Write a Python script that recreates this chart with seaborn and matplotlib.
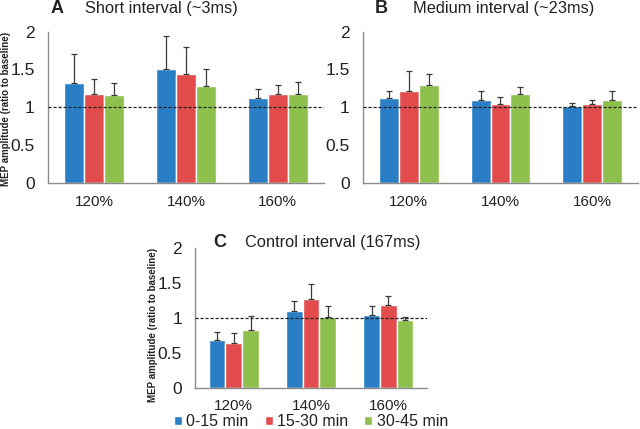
import numpy as np
import pandas as pd
import matplotlib
matplotlib.use('Agg')
import matplotlib.pyplot as plt
import seaborn as sns

# intensities and time windows
intensities = ['120%', '140%', '160%']
windows = ['0-15 min', '15-30 min', '30-45 min']

# rows = intensity (120/140/160%), cols = time window (0-15, 15-30, 30-45 min)
# panel A: short interval (~3ms)
short_mean = [[1.32, 1.17, 1.16],
              [1.51, 1.44, 1.28],
              [1.12, 1.17, 1.18]]
short_top = [[1.71, 1.38, 1.32],
             [1.94, 1.80, 1.51],
             [1.24, 1.30, 1.34]]

# panel B: medium interval (~23ms)
medium_mean = [[1.12, 1.21, 1.30],
               [1.09, 1.04, 1.17],
               [1.02, 1.04, 1.10]]
medium_top = [[1.22, 1.48, 1.44],
              [1.22, 1.13, 1.27],
              [1.06, 1.09, 1.21]]

# panel C: control interval (167ms)
control_mean = [[0.68, 0.65, 0.83],
                [1.10, 1.27, 1.02],
                [1.05, 1.19, 0.97]]
control_top = [[0.80, 0.79, 1.03],
               [1.25, 1.49, 1.17],
               [1.18, 1.31, 1.02]]

palette = ['#2a7ec5', '#e24c4c', '#8dc04d']
axis_grey = '#8c8c8c'
text_col = '#222222'


def to_frame(means, tops):
    rows = []
    for i, inten in enumerate(intensities):
        for j, win in enumerate(windows):
            rows.append({'intensity': inten, 'window': win,
                         'mean': means[i][j], 'err': tops[i][j] - means[i][j]})
    return pd.DataFrame(rows)


def draw_panel(ax, means, tops, letter, title, lx, tx, ty, legend=False):
    df = to_frame(means, tops)
    sns.barplot(data=df, x='intensity', y='mean', hue='window', order=intensities,
                hue_order=windows, palette=palette, width=0.65, errorbar=None,
                saturation=1, ax=ax, legend=legend)
    # one-sided error bars on top of each bar (patches come in hue order)
    bars = [p for p in ax.patches if p.get_height() > 0]
    for k, bar in enumerate(bars):
        j, i = divmod(k, len(intensities))
        row = df[(df.intensity == intensities[i]) & (df.window == windows[j])].iloc[0]
        xc = bar.get_x() + bar.get_width() / 2
        ax.errorbar(xc, row['mean'], yerr=[[0], [row['err']]], fmt='none',
                    ecolor='#3a3a3a', elinewidth=0.9, capsize=2.2, capthick=0.9)
    ax.axhline(1, color='#222222', linestyle=(0, (2.5, 1.5)), linewidth=0.9, zorder=5)
    ax.set_ylim(0, 2)
    ax.set_xlim(-0.5, 2.5)
    ax.set_yticks([0, 0.5, 1, 1.5, 2])
    ax.set_yticklabels(['0', '0.5', '1', '1.5', '2'])
    ax.set_xticks([0.5 + k for k in range(-1, 3)], minor=True)
    ax.tick_params(axis='x', which='major', length=0, labelsize=11, colors=text_col, pad=9)
    ax.tick_params(axis='x', which='minor', length=4, color=axis_grey, width=0.9)
    ax.tick_params(axis='y', length=3.5, color=axis_grey, width=0.9, labelsize=12.5,
                   labelcolor=text_col, pad=6)
    for s in ['top', 'right']:
        ax.spines[s].set_visible(False)
    for s in ['left', 'bottom']:
        ax.spines[s].set_color(axis_grey)
        ax.spines[s].set_linewidth(1.0)
    ax.set_xlabel('')
    ax.set_ylabel('')
    ax.text(lx, ty, letter, transform=ax.transAxes, fontsize=13,
            fontweight='bold', color=text_col, ha='left', va='center')
    ax.text(tx, ty, title, transform=ax.transAxes, fontsize=11.8,
            color=text_col, ha='left', va='center')


fig = plt.figure(figsize=(6.4, 4.29), dpi=100)
sns.set_style('white')
plt.rcParams['font.family'] = ['Liberation Sans', 'DejaVu Sans']

ax_a = fig.add_axes([0.075, 0.574, 0.431, 0.352])
ax_b = fig.add_axes([0.567, 0.574, 0.430, 0.352])
ax_c = fig.add_axes([0.305, 0.096, 0.362, 0.325])

draw_panel(ax_a, short_mean, short_top, 'A', 'Short interval (~3ms)', 0.008, 0.135, 1.155)
draw_panel(ax_b, medium_mean, medium_top, 'B', 'Medium interval (~23ms)', 0.043, 0.183, 1.155)
draw_panel(ax_c, control_mean, control_top, 'C', 'Control interval (167ms)', 0.076, 0.216,
           1.045, legend=True)
ax_c.tick_params(axis='x', which='major', pad=8)

ax_a.set_ylabel('MEP amplitude (ratio to baseline)', fontsize=7, fontweight='bold',
                color=text_col)
ax_a.yaxis.set_label_coords(-0.135, 0.49)
ax_c.set_ylabel('MEP amplitude (ratio to baseline)', fontsize=7, fontweight='bold',
                color=text_col)
ax_c.yaxis.set_label_coords(-0.16, 0.45)

ax_c.legend(loc='upper center', bbox_to_anchor=(0.5, -0.19), ncol=3, frameon=False,
            fontsize=11.5, handlelength=0.5, handleheight=0.5, handletextpad=0.3,
            columnspacing=1.0, labelcolor=text_col, borderaxespad=0, borderpad=0)

fig.savefig('out.png', dpi=100)
